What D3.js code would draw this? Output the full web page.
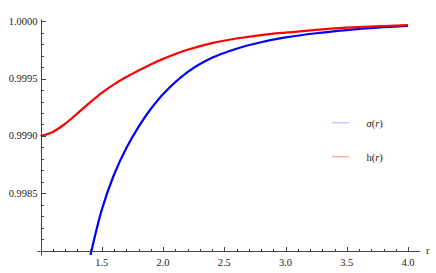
<!DOCTYPE html>
<html>
<head>
<meta charset="utf-8">
<style>
    body { margin: 0; background: #fff; }
</style>
</head>
<body>
<div id="containerChart"></div>
<script src="https://cdn.jsdelivr.net/npm/d3@7/dist/d3.min.js"></script>
<script>
    // values
    var rValues = [1.0, 1.1, 1.2, 1.3, 1.4, 1.5, 1.6, 1.7, 1.8, 1.9, 2.0, 2.2, 2.4, 2.6, 2.8, 3.0, 3.25, 3.5, 3.75, 4.0];
    var hValues = [0.999000, 0.999035, 0.999105, 0.999195, 0.999288, 0.999376, 0.999450, 0.999514, 0.999571, 0.999624,
                   0.999672, 0.999752, 0.999810, 0.999850, 0.999880, 0.999902, 0.999926, 0.999944, 0.999957, 0.999967];
    var sigmaValues = [null, null, null, null, 0.997920, 0.998355, 0.998661, 0.998892, 0.999079, 0.999235,
                       0.999364, 0.999556, 0.999681, 0.999761, 0.999817, 0.999859, 0.999896, 0.999923, 0.999944, 0.999959];
    var xTicks = [1.5, 2.0, 2.5, 3.0, 3.5, 4.0];
    var yTicks = [0.9985, 0.9990, 0.9995, 1.0000];
    var legendLabels = ["\u03c3(r)", "h(r)"];
    var seriesColors = ["#0000ff", "#ff0000"];
    var legendColors = ["#c8c8ff", "#ffb0b0"];

    var svgWidth = 436;
    var svgHeight = 273;
    var serif = "'Liberation Serif', 'Times New Roman', 'DejaVu Serif', serif";
    var axisColor = "#444";

    var svg = d3.select("#containerChart")
        .append("svg")
        .attr("width", svgWidth)
        .attr("height", svgHeight);

    //Set up scales
    var xScale = d3.scaleLinear().domain([1, 4]).range([40.5, 408]);
    var yScale = d3.scaleLinear().domain([0.998, 1.0]).range([250.5, 21.3]);

    var xMinor = d3.range(1, 31).filter(function (i) { return i % 5 !== 0; }).map(function (i) { return 1 + i * 0.1; });
    var yMinor = d3.range(1, 20).filter(function (i) { return i % 5 !== 0; }).map(function (i) { return 0.998 + i * 0.0001; });

    // clip so the blue curve just runs past the axis
    svg.append("clipPath").attr("id", "plotClip")
        .append("rect").attr("x", 0).attr("y", 0).attr("width", svgWidth).attr("height", 255);

    var series = [
        { values: sigmaValues, color: seriesColors[0] },
        { values: hValues, color: seriesColors[1] }
    ];

    var line = d3.line()
        .defined(function (d) { return d[1] !== null; })
        .x(function (d) { return xScale(d[0]); })
        .y(function (d) { return yScale(d[1]); })
        .curve(d3.curveCatmullRom.alpha(0.5));

    svg.append("g").attr("clip-path", "url(#plotClip)")
        .selectAll("path")
        .data(series)
        .enter().append("path")
        .attr("d", function (s) { return line(rValues.map(function (r, i) { return [r, s.values[i]]; })); })
        .attr("fill", "none")
        .attr("stroke", function (s) { return s.color; })
        .attr("stroke-width", 2.2)
        .attr("stroke-linejoin", "round");

    var y0 = Math.round(yScale(0.998)) + 0.5;
    var x0 = Math.round(xScale(1)) + 0.5;
    var axes = svg.append("g").attr("stroke", axisColor).attr("stroke-width", 1).attr("fill", "none");

    // axis lines
    axes.append("line").attr("x1", x0 - 4).attr("x2", xScale(4) + 12).attr("y1", y0).attr("y2", y0);
    axes.append("line").attr("x1", x0).attr("x2", x0).attr("y1", y0 + 4).attr("y2", yScale(1.0) - 2);

    // x ticks, pointing up
    axes.selectAll(".xmaj").data(xTicks).enter().append("line").attr("class", "xmaj")
        .attr("x1", function (d) { return Math.round(xScale(d)) + 0.5; })
        .attr("x2", function (d) { return Math.round(xScale(d)) + 0.5; })
        .attr("y1", y0).attr("y2", y0 - 4.5);
    axes.selectAll(".xmin").data(xMinor).enter().append("line").attr("class", "xmin")
        .attr("x1", function (d) { return Math.round(xScale(d)) + 0.5; })
        .attr("x2", function (d) { return Math.round(xScale(d)) + 0.5; })
        .attr("y1", y0).attr("y2", y0 - 2.5);

    // y ticks, pointing right
    axes.selectAll(".ymaj").data(yTicks).enter().append("line").attr("class", "ymaj")
        .attr("y1", function (d) { return Math.round(yScale(d)) + 0.5; })
        .attr("y2", function (d) { return Math.round(yScale(d)) + 0.5; })
        .attr("x1", x0).attr("x2", x0 + 4.5);
    axes.selectAll(".ymin").data(yMinor).enter().append("line").attr("class", "ymin")
        .attr("y1", function (d) { return Math.round(yScale(d)) + 0.5; })
        .attr("y2", function (d) { return Math.round(yScale(d)) + 0.5; })
        .attr("x1", x0).attr("x2", x0 + 2.5);

    // tick labels
    var labels = svg.append("g").attr("font-family", serif).attr("font-size", 10.5).attr("fill", "#222");
    labels.selectAll(".xl").data(xTicks).enter().append("text").attr("class", "xl")
        .attr("x", function (d) { return xScale(d); })
        .attr("y", y0 + 14)
        .attr("text-anchor", "middle")
        .text(d3.format(".1f"));
    labels.selectAll(".yl").data(yTicks).enter().append("text").attr("class", "yl")
        .attr("x", x0 - 4)
        .attr("y", function (d) { return yScale(d) + 3.5; })
        .attr("text-anchor", "end")
        .text(d3.format(".4f"));
    labels.append("text")
        .attr("x", 426).attr("y", 253.5)
        .text("r");

    // legend
    var legend = svg.append("g").attr("font-family", serif).attr("font-size", 10.5).attr("fill", "#222");
    legendLabels.forEach(function (lab, i) {
        var y = 122.7 + i * 34;
        legend.append("line")
            .attr("x1", 332).attr("x2", 349)
            .attr("y1", y).attr("y2", y)
            .attr("stroke", legendColors[i])
            .attr("stroke-width", 1.5);
        var t = legend.append("text")
            .attr("x", 366.5).attr("y", y + 4);
        if (i === 0) {
            t.append("tspan").attr("font-style", "italic").text("\u03c3");
            t.append("tspan").text("(");
            t.append("tspan").attr("font-style", "italic").text("r");
            t.append("tspan").text(")");
        } else {
            t.append("tspan").text("h(");
            t.append("tspan").attr("font-style", "italic").text("r");
            t.append("tspan").text(")");
        }
    });
</script>
</body>
</html>
